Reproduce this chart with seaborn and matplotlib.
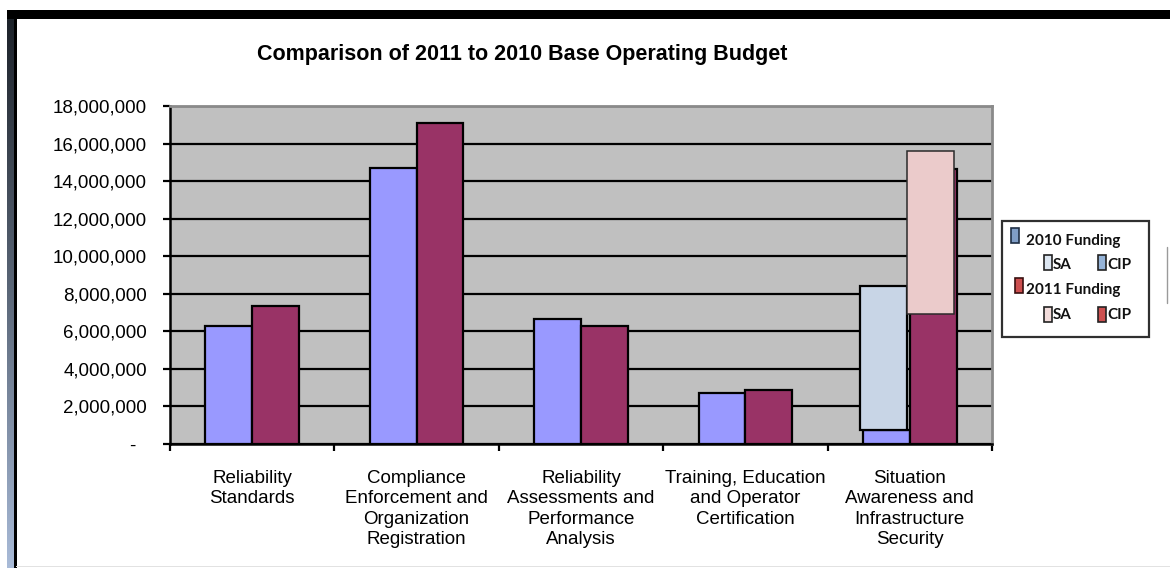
import numpy as np
import pandas as pd
import matplotlib
matplotlib.use("Agg")
import matplotlib.pyplot as plt
import seaborn as sns
from matplotlib.patches import Rectangle
from matplotlib.lines import Line2D
from matplotlib.colors import LinearSegmentedColormap
import matplotlib.transforms as mtransforms

# ---------------- data ----------------
categories = [
    "Reliability\nStandards",
    "Compliance\nEnforcement and\nOrganization\nRegistration",
    "Reliability\nAssessments and\nPerformance\nAnalysis",
    "Training, Education\nand Operator\nCertification",
    "Situation\nAwareness and\nInfrastructure\nSecurity",
]
years = ["2010", "2011"]
funding_2010 = [6_300_000, 14_700_000, 6_650_000, 2_700_000, 750_000]
funding_2011 = [7_330_000, 17_100_000, 6_270_000, 2_880_000, 14_650_000]
# stacked overlay segments on the last category (bottom, top)
segment_2010 = [750_000, 8_400_000]
segment_2011 = [6_900_000, 15_600_000]
y_ticks = [0, 2_000_000, 4_000_000, 6_000_000, 8_000_000, 10_000_000,
           12_000_000, 14_000_000, 16_000_000, 18_000_000]
title = "Comparison of 2011 to 2010 Base Operating Budget"
legend_rows = ["2010 Funding", "SA", "CIP", "2011 Funding", "SA", "CIP"]

# ---------------- style ----------------
sns.set_theme(style="white")
plt.rcParams["font.family"] = ["Liberation Sans", "DejaVu Sans"]

W, H = 1170, 568
fig = plt.figure(figsize=(W / 100, H / 100), dpi=100)
fig.patch.set_facecolor("white")


def fx(x):
    return x / W


def fy(y):
    return 1 - y / H


ax = fig.add_axes([fx(170), fy(444), fx(992 - 170), (444 - 106) / H])
ax.set_facecolor("#C0C0C0")

df = pd.DataFrame({
    "category": categories * 2,
    "value": funding_2010 + funding_2011,
    "year": [years[0]] * len(categories) + [years[1]] * len(categories),
})

sns.barplot(data=df, x="category", y="value", hue="year", order=categories,
            hue_order=years, palette=["#9999FF", "#993366"], saturation=1,
            width=0.57, edgecolor="black", linewidth=1.6, ax=ax,
            legend=False, errorbar=None)

bw = 0.285
last = len(categories) - 1
ax.bar(last - bw / 2 - 0.015, segment_2010[1] - segment_2010[0],
       bottom=segment_2010[0], width=bw, color="#C8D5E6",
       edgecolor="black", linewidth=1.6, zorder=3)
ax.bar(last + bw / 2 - 0.018, segment_2011[1] - segment_2011[0],
       bottom=segment_2011[0], width=bw, color="#EBCBCB",
       edgecolor="#2a2a2a", linewidth=1.1, zorder=3)

ax.set_xlim(-0.5, len(categories) - 0.5)
ax.set_ylim(0, 18_000_000)
ax.set_xlabel("")
ax.set_ylabel("")

ax.set_axisbelow(True)
ax.yaxis.grid(True, color="black", linewidth=1.6)
ax.xaxis.grid(False)

ax.set_yticks(y_ticks)
ax.set_yticklabels(["-" if v == 0 else f"{v:,}" for v in y_ticks])
ax.tick_params(axis="y", which="major", left=True, direction="out",
               length=5, width=1.6, color="black", pad=11.5,
               labelsize=13.5, labelcolor="black")

ax.set_xticks(range(len(categories)))
ax.set_xticklabels(categories)
ax.set_xticks(np.arange(-0.5, len(categories), 1.0), minor=True)
ax.tick_params(axis="x", which="major", length=0, pad=18.5,
               labelsize=13.5, labelcolor="black")
ax.tick_params(axis="x", which="minor", bottom=True, direction="out",
               length=5, width=1.6, color="black")
for lbl in ax.get_xticklabels():
    lbl.set_linespacing(1.27)

for s in ["top", "right"]:
    ax.spines[s].set_color("#8a8a8a")
    ax.spines[s].set_linewidth(2)
for s in ["left", "bottom"]:
    ax.spines[s].set_color("black")
    ax.spines[s].set_linewidth(1.8)

# title
fig.text(fx(522), fy(60), title, ha="center", va="baseline",
         fontsize=15.5, fontweight="bold", color="black")

# ---------------- frame decoration ----------------
fig.add_artist(Rectangle((fx(7), fy(19)), 1 - fx(7), 9 / H,
                         transform=fig.transFigure, color="black", lw=0))
gax = fig.add_axes([fx(7), 0, fx(7), fy(10)])
grad = np.linspace(0, 1, 256).reshape(-1, 1)
cmap = LinearSegmentedColormap.from_list("edge", ["#1b2027", "#5a6677", "#a9bbd8"])
gax.imshow(grad, aspect="auto", cmap=cmap)
gax.axis("off")
fig.add_artist(Rectangle((fx(14), 0), fx(2.5), fy(10),
                         transform=fig.transFigure, color="black", lw=0))
fig.add_artist(Rectangle((fx(16), fy(567)), 1 - fx(16), 1.2 / H,
                         transform=fig.transFigure, color="#e2e2e2", lw=0))
fig.add_artist(Line2D([fx(1167), fx(1167)], [fy(247), fy(303)],
                      transform=fig.transFigure, color="#9a9a9a", lw=1))

# ---------------- legend (custom box) ----------------
fig.add_artist(Rectangle((fx(1002), fy(337)), fx(1149 - 1002), (337 - 221) / H,
                         transform=fig.transFigure, facecolor="white",
                         edgecolor="#303030", lw=1.6))


def lpatch(x0, y0, color, edge="#222222"):
    fig.add_artist(Rectangle((fx(x0), fy(y0 + 15)), fx(8), 15 / H,
                             transform=fig.transFigure, facecolor=color,
                             edgecolor=edge, lw=1.2))


leg_font = dict(fontsize=11, fontweight="bold", family=["Lato", "DejaVu Sans"],
                color="#111111", va="center", ha="left")

lpatch(1011, 228, "#7F9DC6", "#1f2f45")
fig.text(fx(1026), fy(241), legend_rows[0], **leg_font)
lpatch(1044, 255, "#DCE6F1")
fig.text(fx(1053), fy(265), legend_rows[1], **leg_font)
lpatch(1098, 255, "#95B3D7")
fig.text(fx(1107), fy(265), legend_rows[2], **leg_font)
lpatch(1015, 278, "#CC4F4F", "#3a1010")
fig.text(fx(1026), fy(290), legend_rows[3], **leg_font)
lpatch(1044, 307, "#F2DCDB")
fig.text(fx(1053), fy(315), legend_rows[4], **leg_font)
lpatch(1098, 307, "#CC5050")
fig.text(fx(1107), fy(315), legend_rows[5], **leg_font)

# shift the "-" zero label left (accounting format look)
fig.canvas.draw()
lab0 = ax.yaxis.get_major_ticks()[0].label1
lab0.set_transform(lab0.get_transform() +
                   mtransforms.ScaledTranslation(-0.12, 0, fig.dpi_scale_trans))

fig.savefig("out.png", dpi=100, facecolor="white")
